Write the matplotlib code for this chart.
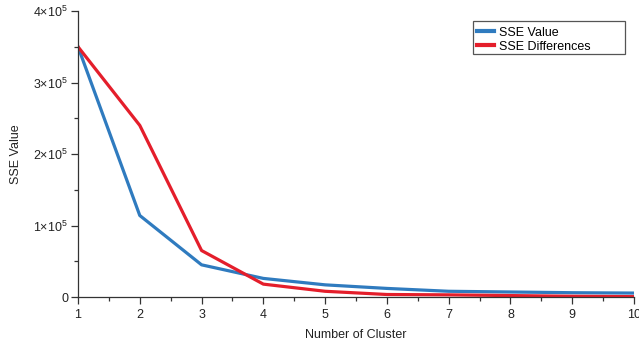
import matplotlib
matplotlib.use("Agg")
import matplotlib.pyplot as plt
from matplotlib.ticker import MultipleLocator, FuncFormatter
from matplotlib.patches import Rectangle

plt.rcParams['font.family'] = ['Liberation Sans', 'DejaVu Sans']
plt.rcParams['mathtext.fontset'] = 'custom'
plt.rcParams['mathtext.rm'] = 'Liberation Sans'
plt.rcParams['mathtext.it'] = 'Liberation Sans'

clusters = [1, 2, 3, 4, 5, 6, 7, 8, 9, 10]
sse_value = [350000, 114000, 45000, 26000, 17000, 12000, 8000, 7000, 6000, 5500]
sse_diff = [350000, 240000, 65000, 18000, 8000, 3500, 3000, 2000, 1000, 500]

W, H = 639, 344
fig = plt.figure(figsize=(W/100, H/100), dpi=100)
ax = fig.add_axes([78/W, 1-297/H, (634-78)/W, (297-11)/H])

ax.plot(clusters, sse_value, color='#2f7bbf', lw=2.3, label='SSE Value')
ax.plot(clusters, sse_diff, color='#e41e2b', lw=2.3, label='SSE Differences')

ax.set_xlim(1, 10)
ax.set_ylim(0, 400000)
ax.xaxis.set_major_locator(MultipleLocator(1))
ax.xaxis.set_minor_locator(MultipleLocator(0.5))
ax.yaxis.set_major_locator(MultipleLocator(100000))
ax.yaxis.set_minor_locator(MultipleLocator(50000))

def yfmt(v, pos):
    n = int(round(v / 100000))
    if n == 0:
        return '0'
    return r'%d$\times$10$^{5}$' % n
ax.yaxis.set_major_formatter(FuncFormatter(yfmt))

for s in ['top', 'right']:
    ax.spines[s].set_visible(False)
for s in ['left', 'bottom']:
    ax.spines[s].set_color('#333333')
    ax.spines[s].set_linewidth(0.9)
ax.tick_params(which='major', length=5, width=0.9, color='#333333', labelsize=9, pad=2, labelcolor='#222222')
ax.tick_params(axis='x', which='major', pad=3.5)
ax.tick_params(which='minor', length=3, width=0.9, color='#333333')

ax.set_xlabel('Number of Cluster', fontsize=9, color='#222222', labelpad=6)
ax.set_ylabel('SSE Value', fontsize=9, color='#222222', labelpad=8)

# legend box (pixel coordinates converted to figure fraction)
lx0, lx1, ly0, ly1 = 473, 625, 21, 54
fig.patches.append(Rectangle((lx0/W, 1-ly1/H), (lx1-lx0)/W, (ly1-ly0)/H,
                             transform=fig.transFigure, facecolor='white',
                             edgecolor='#555555', linewidth=0.9, zorder=5))
leg = fig.legend(loc='upper left', bbox_to_anchor=(lx0/W, 1-(ly0+2)/H), fontsize=9, frameon=False,
                 handlelength=1.4, borderpad=0.3, borderaxespad=0,
                 labelspacing=0.15, handletextpad=0.4)
leg.set_zorder(6)
for line in leg.get_lines():
    line.set_linewidth(3)

fig.savefig('out.png', dpi=100)
